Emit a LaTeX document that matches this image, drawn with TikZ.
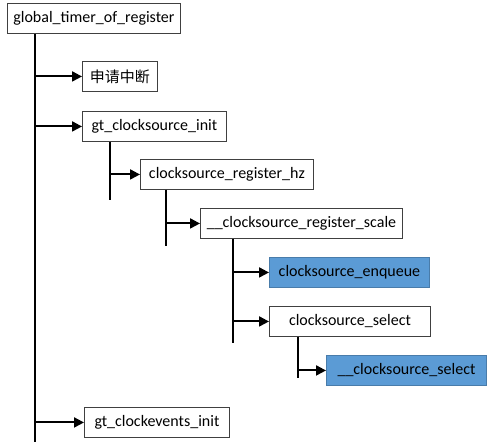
\documentclass[tikz,border=0pt]{standalone}
\usepackage{fontspec}
\setmainfont{Carlito}
\newfontfamily\cjk{Noto Sans CJK SC}
\usetikzlibrary{arrows.meta}
\definecolor{callblue}{HTML}{5B9BD5}
\definecolor{boxline}{HTML}{404040}

\begin{document}
\begin{tikzpicture}[x=1pt,y=-1pt,
	fnbox/.style={draw=boxline,line width=0.9pt,fill=white,anchor=north west,
		minimum height=30pt,inner sep=0pt,font=\fontsize{16}{18}\selectfont},
	hotbox/.style={fnbox,draw=callblue!80!black,fill=callblue},
	trunk/.style={line width=2pt},
	callarrow/.style={line width=2pt,-{Triangle[length=10pt,width=10pt]}}]
	\useasboundingbox[fill=white] (0,0) rectangle (492,447);

	\node[fnbox,minimum width=173pt] (timer) at (7,3) {global\_timer\_of\_register};
	\node[fnbox,minimum width=75pt] (irq) at (82,61) {\cjk\fontsize{15}{18}\selectfont 申请中断};
	\node[fnbox,minimum width=144pt] (csinit) at (82,111) {gt\_clocksource\_init};
	\node[fnbox,minimum width=173pt] (reghz) at (140,159) {clocksource\_register\_hz};
	\node[fnbox,minimum width=202pt] (regscale) at (200,208) {\_\_clocksource\_register\_scale};
	\node[hotbox,minimum width=160pt] (enqueue) at (269,257) {clocksource\_enqueue};
	\node[fnbox,minimum width=161pt] (select) at (269,306) {clocksource\_select};
	\node[hotbox,minimum width=160pt] (uselect) at (326,355) {\_\_clocksource\_select};
	\node[fnbox,minimum width=145pt] (ceinit) at (84,407) {gt\_clockevents\_init};

	% trunks below each caller
	\coordinate (t1) at (35,442);
	\coordinate (t2) at (110,200);
	\coordinate (t3) at (166,246);
	\coordinate (t4) at (233,343);
	\coordinate (t5) at (298,378);
	\draw[trunk] (timer.south -| t1) -- (t1);
	\draw[trunk] (csinit.south -| t2) -- (t2);
	\draw[trunk] (reghz.south -| t3) -- (t3);
	\draw[trunk] (regscale.south -| t4) -- (t4);
	\draw[trunk] (select.south -| t5) -- (t5);

	\draw[callarrow] (t1 |- irq.west) -- (irq.west);
	\draw[callarrow] (t1 |- csinit.west) -- (csinit.west);
	\draw[callarrow] (t1 |- ceinit.west) -- (ceinit.west);
	\draw[callarrow] (t2 |- reghz.west) -- (reghz.west);
	\draw[callarrow] (t3 |- regscale.west) -- (regscale.west);
	\draw[callarrow] (t4 |- enqueue.west) -- (enqueue.west);
	\draw[callarrow] (t4 |- select.west) -- (select.west);
	\draw[callarrow] (t5 |- uselect.west) -- (uselect.west);
\end{tikzpicture}
\end{document}
